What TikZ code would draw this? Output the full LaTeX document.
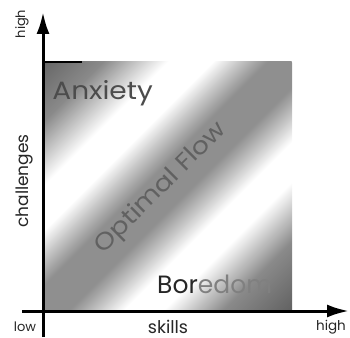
\documentclass[tikz,border=0pt]{standalone}
\usepackage{fontspec}
\setmainfont{Poppins}
\newfontfamily\widefont[FakeStretch=1.12]{Poppins}
\usetikzlibrary{arrows.meta}
\pgfdeclarehorizontalshading{flowshade}{100bp}{color(0bp)=(black!60); color(25bp)=(black!60); color(31bp)=(black!46); color(37.5bp)=(white); color(42bp)=(white); color(45bp)=(black!25); color(47.5bp)=(black!44); color(52.5bp)=(black!44); color(55bp)=(black!25); color(58bp)=(white); color(62bp)=(white); color(68bp)=(black!46); color(75bp)=(black!62); color(100bp)=(black!62)}
\begin{document}
\begin{tikzpicture}[x=1pt,y=1pt,
  axis/.style={line width=3pt, -{Latex[length=22pt,width=13pt]}},
  lab/.style={inner sep=0pt, text=black!85}]
\useasboundingbox (0,0) rectangle (350,337);
\node (square) [minimum width=249pt, minimum height=249pt, inner sep=0pt] at (167.5,150.5) {};
\begin{scope}
\clip (square.south west) rectangle (square.north east);
\begin{scope}[transform canvas={shift={(167.5pt,150.5pt)}, rotate=-45}]
\shade[shading=flowshade] (-176.1,-176.1) rectangle (176.1,176.1);
\end{scope}
\end{scope}
\coordinate (ybot) at (43,0);
\coordinate (ytop) at (43,325);
\coordinate (xleft) at (22,26);
\coordinate (xright) at (349,26);
\coordinate (tl) at (43,275);
\coordinate (tlr) at (82,275);
\draw[axis] (ybot) -- (ytop);
\draw[axis] (xleft) -- (xright);
\draw[line width=2.5pt] (tl) -- (tlr);
\node[lab, rotate=90, font=\fontsize{13}{13}\selectfont] (hi1) at (22,313) {high};
\node[lab, rotate=90, font=\fontsize{17}{17}\selectfont] (chal) at (25,156) {challenges};
\node[lab, anchor=base, font=\fontsize{13}{13}\selectfont] (low) at (25,6) {low};
\node[lab, anchor=base, font=\fontsize{17.5}{17.5}\selectfont] (skills) at (168,4) {skills};
\node[lab, anchor=base, font=\fontsize{13.5}{13.5}\selectfont] (hi2) at (331,7) {high};
\node[lab, anchor=base east, font=\widefont\fontsize{25}{25}\selectfont, text=black!70] (anx) at (153,237) {Anxiety};
\node[lab, anchor=base west, font=\fontsize{25}{25}\selectfont] (bor) at (157,44) {Bor\textcolor{black!50}{edom}};
\node[lab, rotate=45, font=\widefont\fontsize{24}{24}\selectfont, text=black!62] (flow) at (161,149) {Optimal Flow};
\end{tikzpicture}
\end{document}
